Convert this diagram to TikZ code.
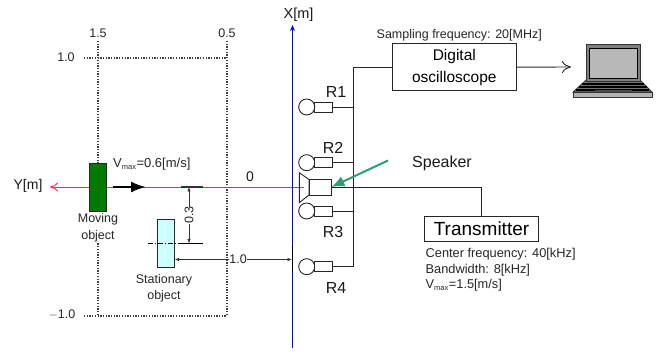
\documentclass[tikz,border=0pt]{standalone}
\usepackage{fontspec}
\setmainfont{Liberation Sans}
\usetikzlibrary{arrows.meta,calc}
\definecolor{spk}{HTML}{2F9E6E}
\definecolor{movg}{HTML}{007A00}
\definecolor{statc}{HTML}{CCFFFF}
\definecolor{redax}{HTML}{FF2A2A}
\tikzset{
  wire/.style={draw=black!85,line width=0.9pt},
  dots/.style={draw=black!75,line width=1.15pt,dash pattern=on 1.3pt off 1.4pt},
  boxnode/.style={draw=black!85,line width=0.9pt,fill=white,inner sep=0pt,align=center},
  mic/.style={circle,draw=black!85,line width=0.9pt,fill=white,minimum size=16pt,inner sep=0pt},
  micbody/.style={draw=black!85,line width=0.9pt,fill=white,minimum width=18pt,minimum height=10pt,inner sep=0pt},
  small/.style={font=\fontsize{12.5}{15}\selectfont,inner sep=0pt,text=black!85},
  mid/.style={font=\fontsize{14}{16}\selectfont,inner sep=0pt,text=black!90},
  dim/.style={draw=black!80,line width=0.7pt,{Latex[length=4.5pt,width=3.5pt]}-{Latex[length=4.5pt,width=3.5pt]}},
}
\begin{document}
\begin{tikzpicture}[x=1pt,y=-1pt]
\useasboundingbox (0,0) rectangle (664,352);
% dotted region
\coordinate (tl) at (84,58); \coordinate (tr) at (227,58);
\coordinate (bl) at (84,316); \coordinate (br) at (227,316);
\coordinate (vla) at (98,41); \coordinate (vlb) at (98,316);
\coordinate (vra) at (227,41);
\draw[dots] (tl) -- (tr);
\draw[dots] (bl) -- (br);
\draw[dots] (vla) -- (vlb);
\draw[dots] (vra) -- (br);
\node[small] (n15) at (98,33) {1.5};
\node[small] (n05) at (227,33) {0.5};
\node[small] (n10) at (66,57.5) {1.0};
\node[small] (nm10) at (62,315) {$-$1.0};
% axes
\coordinate (ya) at (304,187); \coordinate (yb) at (50,187);
\coordinate (xa) at (292.5,348); \coordinate (xb) at (292.5,25);
\draw[redax,line width=0.9pt,-{To[length=8pt,width=9pt]}] (ya) -- (yb);
\draw[blue,line width=1pt,-{Stealth[length=6pt,width=5pt]}] (xa) -- (xb);
\node[mid,font=\fontsize{14.5}{16}\selectfont] (xl) at (298.5,15) {X[m]};
\node[mid] (yl) at (28,186) {Y[m]};
\node[mid] (zero) at (250,177) {0};
% moving object
\node[boxnode,fill=movg,minimum width=16.5pt,minimum height=48pt] (mov) at (98,187) {};
\node[small,fill=white,align=center,inner ysep=1pt,font=\fontsize{12.5}{17}\selectfont] (movl) at (98,228) {Moving\\object};
\coordinate (va) at (113,187); \coordinate (vb) at (146,187);
\draw[black,line width=2.2pt,-{Latex[length=15pt,width=11pt]}] (va) -- (vb);
\node[small,anchor=west,font=\fontsize{13}{15}\selectfont] (vmax) at (113,164) {V\textsubscript{\fontsize{7.5}{8}\selectfont max}=0.6[m/s]};
% stationary object
\node[boxnode,fill=statc,minimum width=16.5pt,minimum height=48.5pt] (stat) at (166,243.5) {};
\coordinate (da) at (148,243.5); \coordinate (db) at (181,243.5);
\coordinate (dc) at (203,243.5); \coordinate (dd) at (181,187); \coordinate (de) at (203,187);
\draw[black,line width=0.6pt,dash pattern=on 5pt off 2pt on 1pt off 2pt] (da) -- (db);
\draw[black,line width=0.8pt] (db) -- (dc);
\draw[black!80,line width=1.1pt] (dd) -- (de);
\node[small,align=center,font=\fontsize{12.5}{16}\selectfont] (statl) at (164,288) {Stationary\\object};
% dimensions
\coordinate (d3a) at (189,187); \coordinate (d3b) at (189,243.5);
\draw[dim] (d3a) -- (d3b) node[pos=0.5,fill=white,rotate=90,inner sep=1pt,small] (d3) {0.3};
\coordinate (d1b) at (292,259.5);
\draw[dim] (stat.east |- d1b) -- (d1b) node[pos=0.54,fill=white,inner sep=1pt,small] (d1) {1.0};
\coordinate (ta) at (292,246); \coordinate (tb) at (292,272);
\draw[black,line width=0.9pt] (ta) -- (tb);
% speaker
\node[boxnode,minimum width=22pt,minimum height=16pt] (spkb) at (320,187) {};
\coordinate (h1) at (309,179.5); \coordinate (h2) at (299.3,172.7);
\coordinate (h3) at (299.3,202.7); \coordinate (h4) at (309,195);
\draw[wire] (h1) -- (h2) -- (h3) -- (h4) -- cycle;
% receivers
\foreach \nm/\yy in {r1/107,r2/162.7,r3/211,r4/266.7}{
  \node[micbody] (\nm b) at (323.5,\yy) {};
  \node[mic] (\nm) at (306.7,\yy) {};
}
\node[mid,font=\fontsize{16}{18}\selectfont] (r1l) at (336,92) {R1};
\node[mid,font=\fontsize{16}{18}\selectfont] (r2l) at (333,148) {R2};
\node[mid,font=\fontsize{16}{18}\selectfont] (r3l) at (333,232) {R3};
\node[mid,font=\fontsize{16}{18}\selectfont] (r4l) at (336,288) {R4};
% oscilloscope
\node[boxnode,minimum width=123.5pt,minimum height=47.5pt,font=\fontsize{15.5}{22}\selectfont] (osc) at (454.3,67.2) {Digital\\oscilloscope};
\node[small,anchor=west] (samp) at (376.5,35) {Sampling frequency: 20[MHz]};
\coordinate (busT) at (353,67.2);
\coordinate (busB) at (353,266.7);
\draw[wire] (osc.west) -- (busT) -- (busB) -- (r4b.east);
\draw[wire] (r1b.east) -- (r1b.east -| busT);
\draw[wire] (r2b.east) -- (r2b.east -| busT);
\draw[wire] (r3b.east) -- (r3b.east -| busT);
% laptop
\coordinate (lap) at (571,67);
\draw[wire,-{To[length=9pt,width=12pt]}] (osc.east) -- (lap);
\fill[black!55] (573,92) -- (586,80) -- (640,80) -- (652,92) -- cycle;
\draw[black!80,line width=0.7pt] (573,92) -- (586,80) -- (640,80) -- (652,92) -- cycle;
\foreach \yy/\xa/\xb in {84/582/644,87/579/647,90/576/649}{
  \draw[black,line width=1.3pt] (\xa,\yy) -- (\xb,\yy);
}
\fill[black!70] (595,90) rectangle (632,92);
\draw[black!80,fill=black!30,line width=0.7pt] (573,92) rectangle (652,97.5);
\draw[black!80,fill=black!50,line width=0.7pt] (586,44.5) rectangle (640,81);
\draw[black,fill=black!28,line width=0.7pt] (589,48) rectangle (637.5,78);
% transmitter
\node[boxnode,minimum width=114.5pt,minimum height=24.5pt,font=\fontsize{19}{21}\selectfont] (tx) at (481.5,229) {Transmitter};
\draw[wire] (spkb.east) -| (tx.north);
\node[small,anchor=north west,align=left,font=\fontsize{12.8}{15.5}\selectfont] (txl) at (425.5,248.5) {Center frequency: 40[kHz]\\Bandwidth: 8[kHz]\\V\textsubscript{\fontsize{7.5}{8}\selectfont max}=1.5[m/s]};
% speaker pointer
\node[mid,font=\fontsize{16}{18}\selectfont] (spl) at (442,163) {Speaker};
\coordinate (pa) at (388,160.5);
\draw[spk,line width=2pt,-{Latex[length=13pt,width=11pt]}] (pa) -- (spkb.east);
\end{tikzpicture}
\end{document}
